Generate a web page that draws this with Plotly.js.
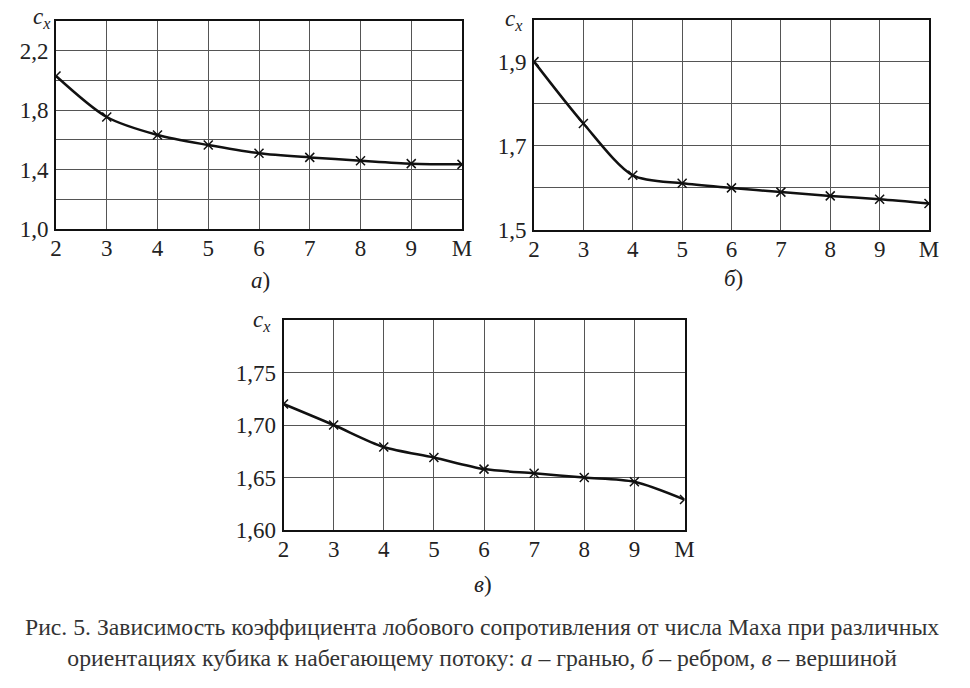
<!DOCTYPE html>
<html><head><meta charset="utf-8">
<script src="https://cdn.plot.ly/plotly-3.0.1.min.js"></script>
<style>html,body{margin:0;padding:0;background:#fff}</style>
</head><body><div id="chart" style="width:970px;height:688px"></div>
<script>
const mach = [2, 3, 4, 5, 6, 7, 8, 9, 10];
const machTickText = ['2', '3', '4', '5', '6', '7', '8', '9', 'M'];
const cxFace = [2.03, 1.754, 1.633, 1.565, 1.51, 1.482, 1.46, 1.44, 1.435];
const cxEdge = [1.90, 1.753, 1.630, 1.611, 1.600, 1.590, 1.581, 1.573, 1.563];
const cxVertex = [1.720, 1.700, 1.679, 1.669, 1.658, 1.654, 1.650, 1.646, 1.629];
const yTicksA = [1.0, 1.2, 1.4, 1.6, 1.8, 2.0, 2.2, 2.4];
const yTextA = ['1,0', '', '1,4', '', '1,8', '', '2,2', ''];
const yTicksB = [1.5, 1.6, 1.7, 1.8, 1.9, 2.0];
const yTextB = ['1,5', '', '1,7', '', '1,9', ''];
const yTicksC = [1.60, 1.65, 1.70, 1.75, 1.80];
const yTextC = ['1,60', '1,65', '1,70', '1,75', ''];
const panelLabels = ['<i>а</i>)', '<i>б</i>)', '<i>в</i>)'];
const caption = 'Рис. 5. Зависимость коэффициента лобового сопротивления от числа Маха при различных<br>ориентациях кубика к набегающему потоку: <i>а</i> – гранью, <i>б</i> – ребром, <i>в</i> – вершиной';

const FONT = 'Liberation Serif';
const W = 970, H = 688;
const px = v => v / W, py = v => 1 - v / H;

function trace(y, xa, ya) {
  return {
    x: mach, y: y, xaxis: xa, yaxis: ya, type: 'scatter', mode: 'lines+markers',
    line: {color: '#111', width: 2.5, shape: 'spline', smoothing: 0.8},
    marker: {symbol: 'x-thin-open', size: 9, color: '#111', line: {color: '#111', width: 1.5}},
    hoverinfo: 'skip', showlegend: false
  };
}
function xax(d, anchor) {
  return {
    domain: d, anchor: anchor, range: [2, 10], tickvals: mach, ticktext: machTickText,
    showgrid: true, gridcolor: '#555', gridwidth: 1, showline: true, mirror: true,
    linecolor: '#111', linewidth: 2, zeroline: false, ticks: '', ticklabelstandoff: -3,
    tickfont: {family: FONT, size: 23, color: '#222'}, fixedrange: true
  };
}
function yax(d, anchor, r, tv, tt) {
  return {
    domain: d, anchor: anchor, range: r, tickvals: tv, ticktext: tt,
    showgrid: true, gridcolor: '#555', gridwidth: 1, showline: true, mirror: true,
    linecolor: '#111', linewidth: 2, zeroline: false, ticks: '', ticklabelstandoff: 1,
    tickfont: {family: FONT, size: 23, color: '#222'}, fixedrange: true
  };
}
const data = [trace(cxFace, 'x', 'y'), trace(cxEdge, 'x2', 'y2'), trace(cxVertex, 'x3', 'y3')];

function ann(text, x, y, size, extra) {
  return Object.assign({text: text, x: px(x), y: py(y), xref: 'paper', yref: 'paper',
    showarrow: false, xanchor: 'center', yanchor: 'middle',
    font: {family: FONT, size: size, color: '#222'}}, extra || {});
}
const layout = {
  width: W, height: H, margin: {l: 0, r: 0, t: 0, b: 0},
  paper_bgcolor: '#fff', plot_bgcolor: '#fff',
  font: {family: FONT, size: 22},
  xaxis: xax([px(56), px(462)], 'y'),
  yaxis: yax([py(229), py(21)], 'x', [1.0, 2.4], yTicksA, yTextA),
  xaxis2: xax([px(534), px(929)], 'y2'),
  yaxis2: yax([py(230), py(19.5)], 'x2', [1.5, 2.0], yTicksB, yTextB),
  xaxis3: xax([px(283.5), px(684.5)], 'y3'),
  yaxis3: yax([py(530), py(320)], 'x3', [1.60, 1.80], yTicksC, yTextC),
  annotations: [
    ann('<i>c<sub>x</sub></i>', 42, 18, 23),
    ann('<i>c<sub>x</sub></i>', 514, 20, 23),
    ann('<i>c<sub>x</sub></i>', 262, 321, 23),
    ann(panelLabels[0], 260, 281, 23),
    ann(panelLabels[1], 733, 278, 23),
    ann(panelLabels[2], 483, 584, 23),
    ann(caption, 482, 642, 23.7, {align: 'center', font: {family: FONT, size: 23.7, color: '#333'}})
  ]
};
Plotly.newPlot('chart', data, layout, {staticPlot: true, displayModeBar: false});
</script></body></html>
